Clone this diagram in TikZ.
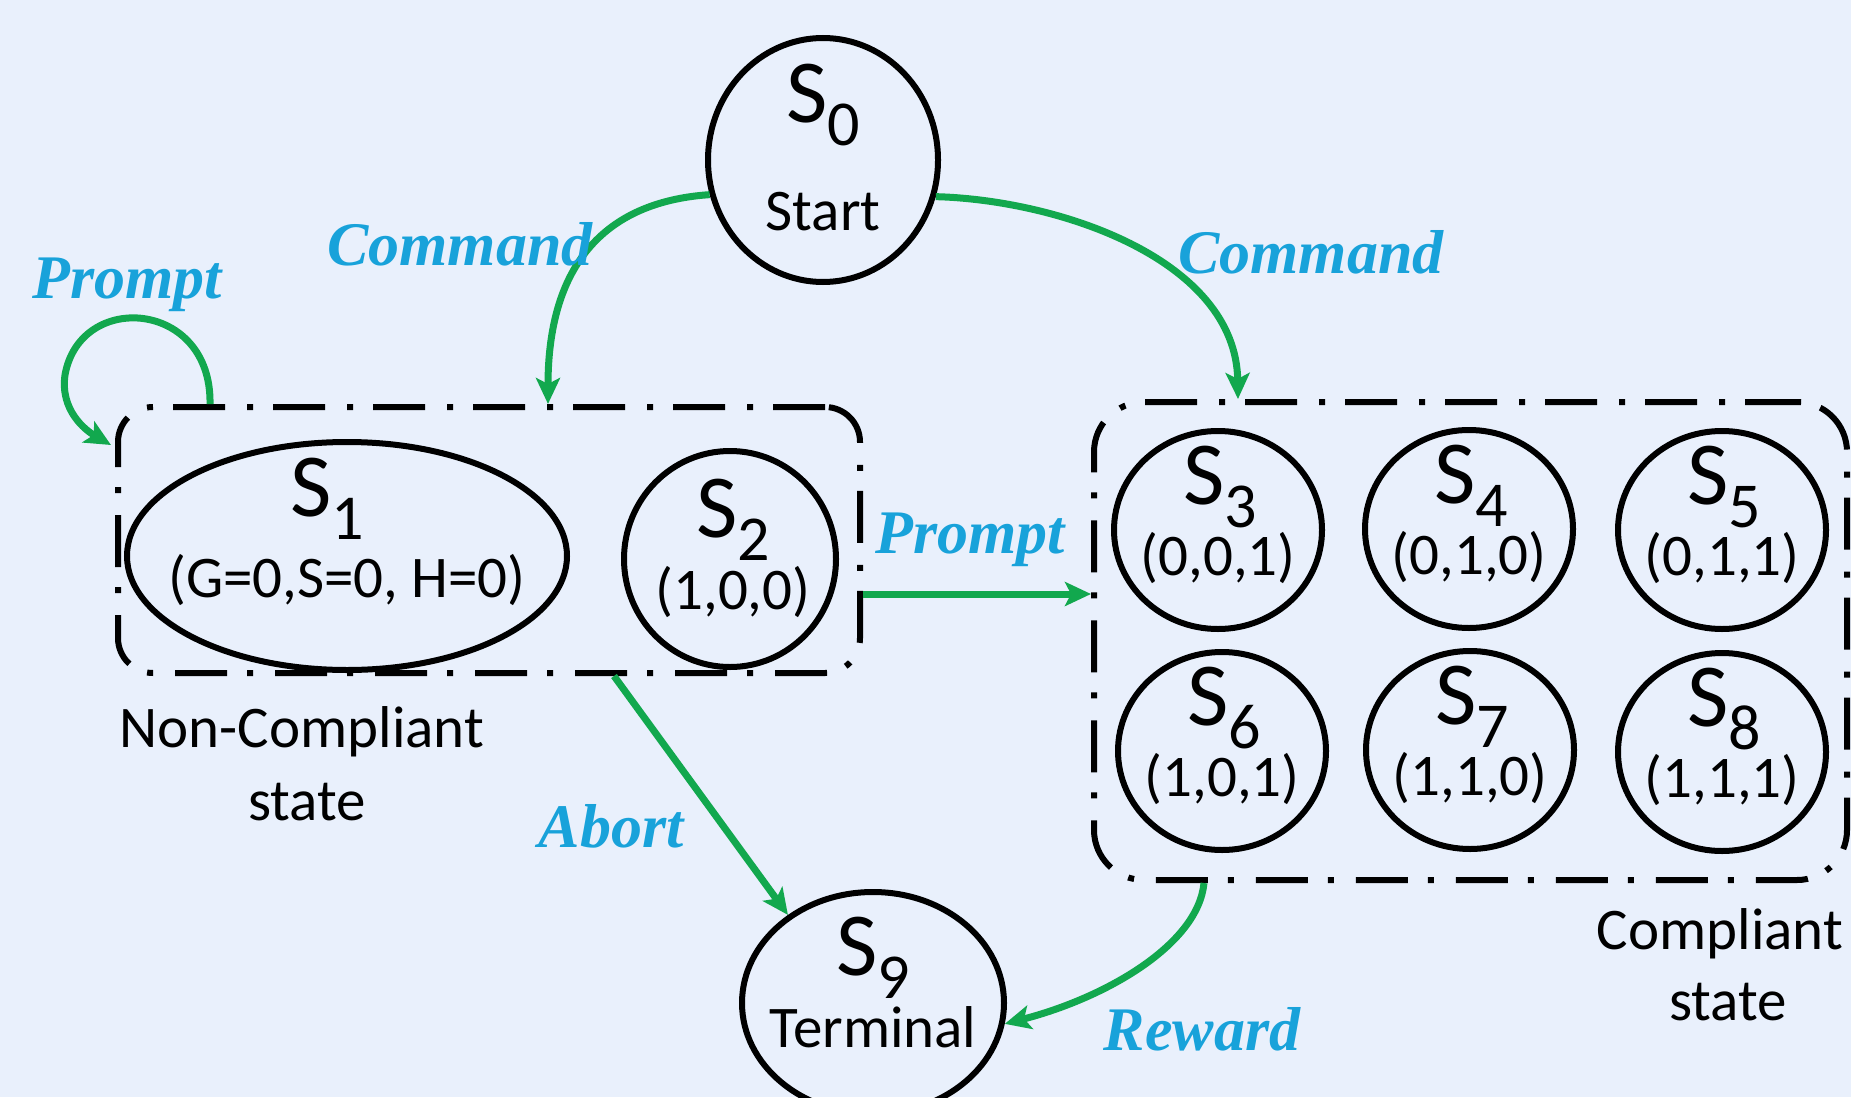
\documentclass[tikz,border=0pt]{standalone}
\usepackage{fontspec}
\setmainfont{Carlito}
\newfontfamily\actfont{Liberation Serif}
\usetikzlibrary{shapes.geometric,arrows.meta,calc}

\definecolor{bgblue}{RGB}{233,240,252}
\definecolor{arrowgreen}{RGB}{18,168,78}
\definecolor{actblue}{RGB}{24,162,218}

% state name: a large S with a lowered index
\newcommand\stname[1]{{\fontsize{90pt}{90pt}\selectfont S}\raisebox{-23pt}{\fontsize{64pt}{64pt}\selectfont #1}}

\begin{document}
\begin{tikzpicture}[x=1pt,y=-1pt,
  state/.style={ellipse, draw=black, line width=6pt, inner sep=0pt},
  group/.style={draw=black, line width=6pt, inner sep=0pt,
    dash pattern=on 52pt off 20pt on 6pt off 22pt},
  trans/.style={draw=arrowgreen, line width=7pt,
    -{Stealth[length=26pt,width=24pt,inset=6pt]}},
  act/.style={text=actblue, anchor=base,
    font=\actfont\bfseries\itshape\fontsize{62pt}{62pt}\selectfont},
  body/.style={anchor=base, inner sep=0pt,
    font=\fontsize{59pt}{70pt}\selectfont},
]
% canvas
\fill[bgblue] (0,0) rectangle (1851,1097);
\useasboundingbox (0,0) rectangle (1851,1097);

% groups of states
\node[group, rounded corners=35pt, minimum width=742pt, minimum height=266pt] (ncbox) at (489,540) {};
\node[group, rounded corners=50pt, minimum width=753pt, minimum height=478pt] (cbox) at (1470.5,641) {};

% states
\node[state, minimum width=230pt, minimum height=244pt] (s0) at (823,160) {};
\node[state, minimum width=440pt, minimum height=228pt] (s1) at (347,556) {};
\node[state, minimum width=212pt, minimum height=216pt] (s2) at (730,559) {};
\node[state, minimum width=208pt, minimum height=198pt] (s3) at (1218,530) {};
\node[state, minimum width=208pt, minimum height=198pt] (s4) at (1469,529) {};
\node[state, minimum width=208pt, minimum height=198pt] (s5) at (1722,530) {};
\node[state, minimum width=208pt, minimum height=198pt] (s6) at (1222,751) {};
\node[state, minimum width=208pt, minimum height=198pt] (s7) at (1470,750) {};
\node[state, minimum width=208pt, minimum height=198pt] (s8) at (1722,752) {};
\node[state, minimum width=262pt, minimum height=222pt] (s9) at (873,1003) {};

% state texts
\node[body] (t0a) at ($(s0)+(0,-38)$) {\stname{0}};
\node[body] (t0b) at ($(s0)+(0,70)$) {Start};
\node[body] (t1a) at ($(s1)+(-20,-40)$) {\stname{1}};
\node[body] (t1b) at ($(s1)+(0,41)$) {(G=0,S=0, H=0)};
\node[body] (t2a) at ($(s2)+(3,-22)$) {\stname{2}};
\node[body] (t2b) at ($(s2)+(3,50)$) {(1,0,0)};
\node[body] (t3a) at ($(s3)+(2,-26)$) {\stname{3}};
\node[body] (t3b) at ($(s3)+(0,45)$) {(0,0,1)};
\node[body] (t4a) at ($(s4)+(2,-26)$) {\stname{4}};
\node[body] (t4b) at ($(s4)+(0,45)$) {(0,1,0)};
\node[body] (t5a) at ($(s5)+(2,-26)$) {\stname{5}};
\node[body] (t5b) at ($(s5)+(0,45)$) {(0,1,1)};
\node[body] (t6a) at ($(s6)+(2,-26)$) {\stname{6}};
\node[body] (t6b) at ($(s6)+(0,45)$) {(1,0,1)};
\node[body] (t7a) at ($(s7)+(2,-26)$) {\stname{7}};
\node[body] (t7b) at ($(s7)+(0,45)$) {(1,1,0)};
\node[body] (t8a) at ($(s8)+(2,-26)$) {\stname{8}};
\node[body] (t8b) at ($(s8)+(0,45)$) {(1,1,1)};
\node[body] (t9a) at ($(s9)+(0,-28)$) {\stname{9}};
\node[body] (t9b) at ($(s9)+(0,44)$) {Terminal};

% group captions
\node[body] (nc1) at (302,747) {Non-Compliant};
\node[body] (nc2) at (307,820) {state};
\node[body] (cc1) at (1720,949) {Compliant};
\node[body] (cc2) at (1728,1020) {state};

% transitions
\draw[trans] (s0.197) .. controls (630,200) and (548,240) .. ([xshift=59pt]ncbox.north);
\draw[trans] (s0.342) .. controls (1060,200) and (1236,260) .. ([xshift=-232.5pt]cbox.north);
\draw[trans] ([xshift=-279pt]ncbox.north) .. controls (212,300) and (80,290) .. (65,375)
  .. controls (60,410) and (85,430) .. ([xshift=-4pt,yshift=95pt]ncbox.west);
\coordinate (pstart) at ([yshift=-54pt]ncbox.east);
\draw[trans] (pstart) -- (pstart -| cbox.west);
\draw[trans] ([xshift=125pt]ncbox.south) -- (s9.134);
\draw[trans] ([xshift=-266.5pt]cbox.south) .. controls (1198,945) and (1105,998) .. (s9.-9);

% action labels
\node[act] (lp1) at (127,298) {Prompt};
\node[act] (lc1) at (460,265) {Command};
\node[act] (lc2) at (1311,273) {Command};
\node[act] (lp2) at (970,553) {Prompt};
\node[act] (la) at (611,847) {Abort};
\node[act] (lr) at (1202,1050) {Reward};
\end{tikzpicture}
\end{document}
